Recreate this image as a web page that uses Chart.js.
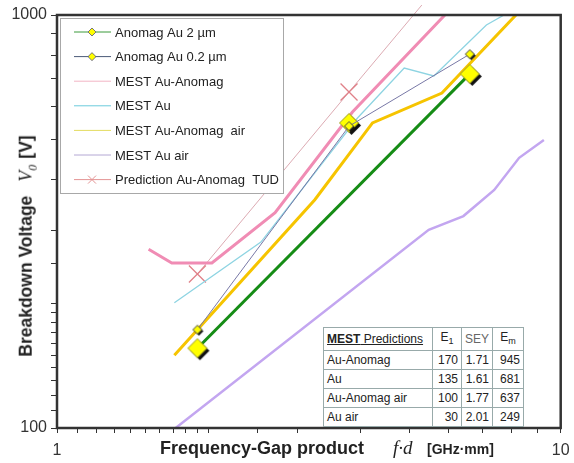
<!DOCTYPE html>
<html>
<head>
<meta charset="utf-8">
<script src="https://cdn.jsdelivr.net/npm/chart.js@4.4.0/dist/chart.umd.min.js"></script>
<style>
  html, body { margin: 0; padding: 0; background: #fff; }
  #wrap { position: relative; width: 574px; height: 463px; font-family: Arial, "Liberation Sans", sans-serif; }
  #ytitle {
    position: absolute; left: 28px; top: 246px; white-space: nowrap;
    transform: translate(-50%, -50%) rotate(-90deg);
    font-weight: bold; font-size: 17.5px; color: #222;
  }
  #ytitle .sym { font-family: "Liberation Serif", "DejaVu Serif", serif; font-style: italic; font-weight: normal; font-size: 18px; margin-left: 14px; margin-right: 6px; }
  #ytitle sub { font-size: 12px; }
  #xtitle {
    position: absolute; left: 160px; top: 437px; display: flex; align-items: baseline;
    white-space: nowrap; color: #222;
  }
  #xtitle .main { font-weight: bold; font-size: 18px; width: 233px; }
  #xtitle .sym { font-family: "Liberation Serif", "DejaVu Serif", serif; font-style: italic; font-size: 19px; width: 34px; }
  #xtitle .unit { font-weight: bold; font-size: 14px; }
  #mest {
    position: absolute; left: 323px; top: 327px; width: 200px; table-layout: fixed;
    border-collapse: collapse; background: #fff; font-size: 12px; color: #222;
  }
  #mest td { border: 1.5px solid #98aaaa; padding: 0 3px; height: 18px; line-height: 18px; white-space: nowrap; overflow: hidden; }
  #mest td.num { text-align: right; }
  #mest .hdr td { text-align: center; }
  #mest .hdr td.first { text-align: left; text-decoration: underline; }
  #mest .sey { color: #666; }
  #mest sub { font-size: 9px; }
</style>
</head>
<body>
<div id="wrap">
  <canvas id="chart" width="574" height="463"></canvas>
  <div id="ytitle">Breakdown Voltage<span class="sym">V<sub>0</sub></span>[V]</div>
  <div id="xtitle"><span class="main">Frequency-Gap product</span><span class="sym">f·d</span><span class="unit">[GHz·mm]</span></div>
  <table id="mest">
    <colgroup><col style="width:109px"><col style="width:29px"><col style="width:31px"><col style="width:31px"></colgroup>
    <tbody id="mest-body"></tbody>
  </table>
</div>
<script>
// measured points, f·d [GHz·mm] vs breakdown voltage [V]
const fdAnomag = [1.9, 3.8, 6.6];
const vAnomag2um = [156, 548, 720];
const vAnomag02um = [173, 538, 804];

const fdMestAuAnomag = [1.52, 1.69, 2.03, 2.71, 3.86, 5.89];
const vMestAuAnomag = [271, 251, 251, 332, 582, 1000];

const fdMestAu = [1.71, 2.54, 3.95, 4.89, 5.60, 7.12, 7.72];
const vMestAu = [201, 282, 563, 744, 712, 946, 1000];

const fdMestAuAnomagAir = [1.71, 3.25, 4.23, 5.81, 8.15];
const vMestAuAnomagAir = [150, 357, 548, 647, 1000];

const fdMestAuAir = [1.72, 5.47, 6.41, 7.38, 8.27, 9.26];
const vMestAuAir = [100, 302, 326, 377, 451, 498];

const fdTud = [1.9, 3.8, 5.3];
const vTud = [236, 651, 1057];

const xTickLabels = [1, 10];
const yTickLabels = [100, 1000];

// MEST prediction table
const mestNames = ['Au-Anomag', 'Au', 'Au-Anomag air', 'Au air'];
const mestE1 = [170, 135, 100, 30];
const mestSEY = [1.71, 1.61, 1.77, 2.01];
const mestEm = [945, 681, 637, 249];

const pts = (xs, ys) => xs.map((x, i) => ({ x: x, y: ys[i] }));

function makeDiamond(r, shadow, outline) {
    const size = Math.ceil(2 * (r + shadow + 2));
    const c = document.createElement('canvas');
    c.width = size; c.height = size;
    const g = c.getContext('2d');
    const m = size / 2;
    const path = (cx, cy) => {
        g.beginPath();
        g.moveTo(cx, cy - r); g.lineTo(cx + r, cy); g.lineTo(cx, cy + r); g.lineTo(cx - r, cy);
        g.closePath();
    };
    path(m + shadow, m + shadow);
    g.fillStyle = '#111';
    g.fill();
    path(m, m);
    g.fillStyle = '#ffff00';
    g.fill();
    g.strokeStyle = outline;
    g.lineWidth = 1;
    g.stroke();
    return c;
}

const bigDiamond = makeDiamond(9.5, 2.5, '#9a9a20');
const smallDiamond = makeDiamond(4.5, 1.5, '#444');
const legendDiamond = makeDiamond(4, 0, '#777');

// fill the table
const tbody = document.getElementById('mest-body');
tbody.innerHTML = `<tr class="hdr"><td class="first"><b>MEST</b> Predictions</td><td>E<sub>1</sub></td><td class="sey">SEY</td><td>E<sub>m</sub></td></tr>`;
mestNames.forEach((name, i) => {
    const row = document.createElement('tr');
    row.innerHTML = `
        <td>${name}</td>
        <td class="num">${mestE1[i]}</td>
        <td class="num">${mestSEY[i].toFixed(2)}</td>
        <td class="num">${mestEm[i]}</td>`;
    tbody.appendChild(row);
});

const legendSpec = [
    { label: 'Anomag Au 2 µm', color: '#3a9a3a', marker: 'diamond' },
    { label: 'Anomag Au 0.2 µm', color: '#4a5a78', marker: 'diamond' },
    { label: 'MEST Au-Anomag', color: '#f2b4c4' },
    { label: 'MEST Au', color: '#6ccbdc' },
    { label: 'MEST Au-Anomag  air', color: '#e4dc60' },
    { label: 'MEST Au air', color: '#b4a8d4' },
    { label: 'Prediction Au-Anomag  TUD', color: '#e49494', marker: 'cross' }
];

const frameAndLegend = {
    id: 'frameAndLegend',
    afterDatasetsDraw(chart) {
        const ctx = chart.ctx;
        const a = chart.chartArea;
        ctx.save();
        ctx.strokeStyle = '#333';
        ctx.lineWidth = 2.5;
        ctx.strokeRect(a.left, a.top, a.right - a.left, a.bottom - a.top);

        // legend box in the upper left corner
        ctx.fillStyle = '#fff';
        ctx.fillRect(60, 18, 223, 175);
        ctx.strokeStyle = '#a8a8a8';
        ctx.lineWidth = 1;
        ctx.strokeRect(60.5, 18.5, 223, 175);
        ctx.font = '13px Arial, "Liberation Sans", sans-serif';
        ctx.textBaseline = 'middle';
        legendSpec.forEach((item, i) => {
            const y = 32 + i * 24.6;
            ctx.strokeStyle = item.color;
            ctx.lineWidth = 1;
            ctx.beginPath();
            ctx.moveTo(74, y);
            ctx.lineTo(111, y);
            ctx.stroke();
            if (item.marker === 'diamond') {
                ctx.drawImage(legendDiamond, 92 - legendDiamond.width / 2, y - legendDiamond.height / 2);
            } else if (item.marker === 'cross') {
                ctx.beginPath();
                ctx.moveTo(88, y - 4); ctx.lineTo(96, y + 4);
                ctx.moveTo(96, y - 4); ctx.lineTo(88, y + 4);
                ctx.stroke();
            }
            ctx.fillStyle = '#222';
            ctx.fillText(item.label, 115, y + 1);
        });
        ctx.restore();
    }
};

new Chart(document.getElementById('chart'), {
    type: 'scatter',
    data: {
        datasets: [
            {
                label: 'Anomag Au 0.2 µm',
                data: pts(fdAnomag, vAnomag02um),
                showLine: true,
                borderColor: '#7878a6',
                borderWidth: 1,
                pointStyle: smallDiamond,
                pointRadius: 5
            },
            {
                label: 'Anomag Au 2 µm',
                data: pts(fdAnomag, vAnomag2um),
                showLine: false,
                pointStyle: bigDiamond,
                pointRadius: 10
            },
            {
                label: 'Anomag Au 2 µm line',
                data: pts([fdAnomag[0], fdAnomag[2]], [vAnomag2um[0], vAnomag2um[2]]),
                showLine: true,
                borderColor: '#158c15',
                borderWidth: 3,
                pointRadius: 0
            },
            {
                label: 'MEST Au-Anomag air',
                data: pts(fdMestAuAnomagAir, vMestAuAnomagAir),
                showLine: true,
                borderColor: '#f6c400',
                borderWidth: 3,
                pointRadius: 0
            },
            {
                label: 'MEST Au-Anomag',
                data: pts(fdMestAuAnomag, vMestAuAnomag),
                showLine: true,
                borderColor: '#f08cb4',
                borderWidth: 3,
                pointRadius: 0
            },
            {
                label: 'MEST Au',
                data: pts(fdMestAu, vMestAu),
                showLine: true,
                borderColor: '#8ed4e2',
                borderWidth: 1.3,
                pointRadius: 0
            },
            {
                label: 'MEST Au air',
                data: pts(fdMestAuAir, vMestAuAir),
                showLine: true,
                borderColor: '#c3a6f0',
                borderWidth: 2.5,
                pointRadius: 0
            },
            {
                label: 'Prediction Au-Anomag TUD',
                data: pts(fdTud, vTud),
                showLine: true,
                borderColor: '#dcaab2',
                borderWidth: 1,
                pointStyle: 'crossRot',
                pointRadius: [12, 12, 0],
                pointBorderColor: '#e08088',
                pointBorderWidth: 1.3,
                clip: { left: 0, top: 12, right: 0, bottom: 0 }
            }
        ]
    },
    options: {
        responsive: false,
        animation: false,
        layout: { padding: { top: 15, right: 0, left: 0, bottom: 0 } },
        plugins: {
            legend: { display: false },
            tooltip: { enabled: false }
        },
        scales: {
            x: {
                type: 'logarithmic',
                min: 1,
                max: 10,
                border: { display: false },
                grid: { drawOnChartArea: false, drawTicks: true, tickLength: 5, color: '#333' },
                ticks: {
                    autoSkip: false,
                    maxRotation: 0,
                    padding: 8,
                    color: '#333',
                    font: { family: 'Arial', size: 16 },
                    callback: (v) => xTickLabels.includes(v) ? String(v) : ''
                },
                afterFit: (scale) => {
                    scale.height = 35;
                    scale.paddingLeft = 0;
                    scale.paddingRight = 9;
                }
            },
            y: {
                type: 'logarithmic',
                min: 100,
                max: 1000,
                border: { display: false },
                grid: { drawOnChartArea: false, drawTicks: true, tickLength: 6, color: '#333' },
                ticks: {
                    autoSkip: false,
                    padding: 4,
                    color: '#333',
                    font: { family: 'Arial', size: 16 },
                    callback: (v) => yTickLabels.includes(v) ? String(v) : ''
                },
                afterFit: (scale) => {
                    scale.width = 57;
                    scale.paddingTop = 0;
                    scale.paddingBottom = 0;
                }
            }
        }
    },
    plugins: [frameAndLegend]
});
</script>
</body>
</html>
